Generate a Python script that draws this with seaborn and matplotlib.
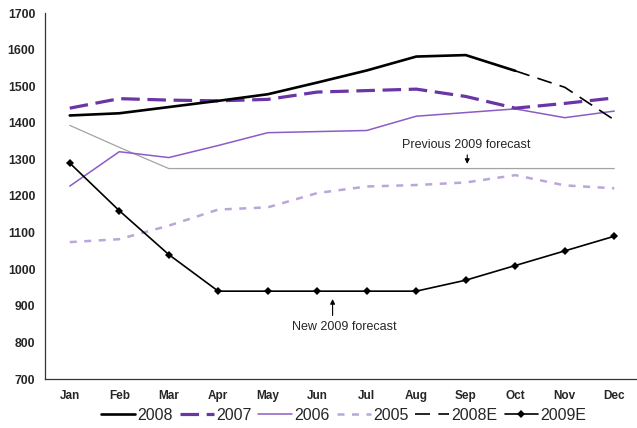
import numpy as np
import pandas as pd
import matplotlib
matplotlib.use("Agg")
import matplotlib.pyplot as plt
import seaborn as sns

months = ["Jan", "Feb", "Mar", "Apr", "May", "Jun", "Jul", "Aug", "Sep", "Oct", "Nov", "Dec"]
nan = np.nan
s2008 = [1420, 1426, 1443, 1460, 1478, 1510, 1543, 1581, 1585, 1542, nan, nan]
s2008e = [nan, nan, nan, nan, nan, nan, nan, nan, nan, 1542, 1497, 1408]
s2007 = [1440, 1466, 1462, 1460, 1464, 1484, 1488, 1492, 1472, 1440, 1453, 1468]
s2006 = [1227, 1321, 1305, 1338, 1373, 1376, 1379, 1418, 1428, 1438, 1414, 1432]
s2005 = [1074, 1082, 1119, 1163, 1169, 1208, 1226, 1230, 1237, 1257, 1229, 1221]
s2009e = [1290, 1160, 1040, 940, 940, 940, 940, 940, 970, 1010, 1050, 1090]
prev_2009 = [1393, 1333, 1275, 1275, 1275, 1275, 1275, 1275, 1275, 1275, 1275, 1275]
y_ticks = [700, 800, 900, 1000, 1100, 1200, 1300, 1400, 1500, 1600, 1700]

sns.set_theme(style="white")
plt.rcParams["font.family"] = ["Liberation Sans", "DejaVu Sans"]

fig = plt.figure(figsize=(6.37, 4.28), dpi=100)
ax = fig.add_axes([45 / 637, 1 - 379 / 428, 594 / 637, 366 / 428])

x = np.arange(len(months))
dark_purple = "#6A35A4"
mid_purple = "#8B5CC6"
light_purple = "#BBA6DA"

sns.lineplot(x=x, y=prev_2009, ax=ax, color="#A3A3A3", lw=0.9, label="_nolegend_")
sns.lineplot(x=x, y=s2005, ax=ax, color=light_purple, lw=1.8,
             linestyle=(0, (2.8, 3.0)), label="2005")
sns.lineplot(x=x, y=s2006, ax=ax, color=mid_purple, lw=1.1, label="2006")
sns.lineplot(x=x, y=s2007, ax=ax, color=dark_purple, lw=2.3,
             linestyle=(0, (5.8, 2.4)), label="2007")
sns.lineplot(x=x, y=s2008e, ax=ax, color="black", lw=1.2,
             linestyle=(0, (9, 5)), label="2008E")
sns.lineplot(x=x, y=s2008, ax=ax, color="black", lw=1.9, label="2008")
sns.lineplot(x=x, y=s2009e, ax=ax, color="black", lw=1.2, marker="D",
             markersize=3.8, markeredgewidth=0, label="2009E")

ax.set_xlim(-0.5, 11.5)
ax.set_ylim(700, 1700)
ax.set_yticks(y_ticks)
ax.set_yticklabels([str(v) for v in y_ticks], fontsize=8.8, fontweight="bold")
ax.set_xticks(np.arange(-0.5, 12, 1.0))
ax.set_xticklabels([])
ax.set_xticks(x, minor=True)
ax.set_xticklabels(months, minor=True, fontsize=8.5, fontweight="bold")
ax.tick_params(axis="x", which="major", direction="out", length=4, width=0.9, color="#333333")
ax.tick_params(axis="x", which="minor", length=0, pad=8)
ax.tick_params(axis="y", direction="out", length=4, width=0.9, color="#333333", pad=3)
ax.set_xlabel("")
ax.set_ylabel("")
for side in ["top", "right"]:
    ax.spines[side].set_visible(False)
for side in ["left", "bottom"]:
    ax.spines[side].set_color("#333333")
    ax.spines[side].set_linewidth(0.9)

# annotations for the two 2009 forecasts
ax.text(8.0, 1339, "Previous 2009 forecast", ha="center", va="center", fontsize=9)
ax.annotate("", xy=(8.03, 1280), xytext=(8.03, 1320),
            arrowprops=dict(arrowstyle="-|>", color="black", lw=0.8, mutation_scale=7))
ax.text(5.55, 842, "New 2009 forecast", ha="center", va="center", fontsize=9)
ax.annotate("", xy=(5.31, 926), xytext=(5.31, 866),
            arrowprops=dict(arrowstyle="-|>", color="black", lw=0.8, mutation_scale=7))

handles, labels = ax.get_legend_handles_labels()
order = ["2008", "2007", "2006", "2005", "2008E", "2009E"]
hmap = dict(zip(labels, handles))
ax.legend([hmap[k] for k in order], order, loc="center",
          bbox_to_anchor=(344 / 637, 1 - 415 / 428), bbox_transform=fig.transFigure,
          ncol=6, frameon=False, fontsize=11.5, handlelength=2.1, handletextpad=0.15,
          columnspacing=0.45, borderpad=0)

fig.savefig("out.png", dpi=100)
